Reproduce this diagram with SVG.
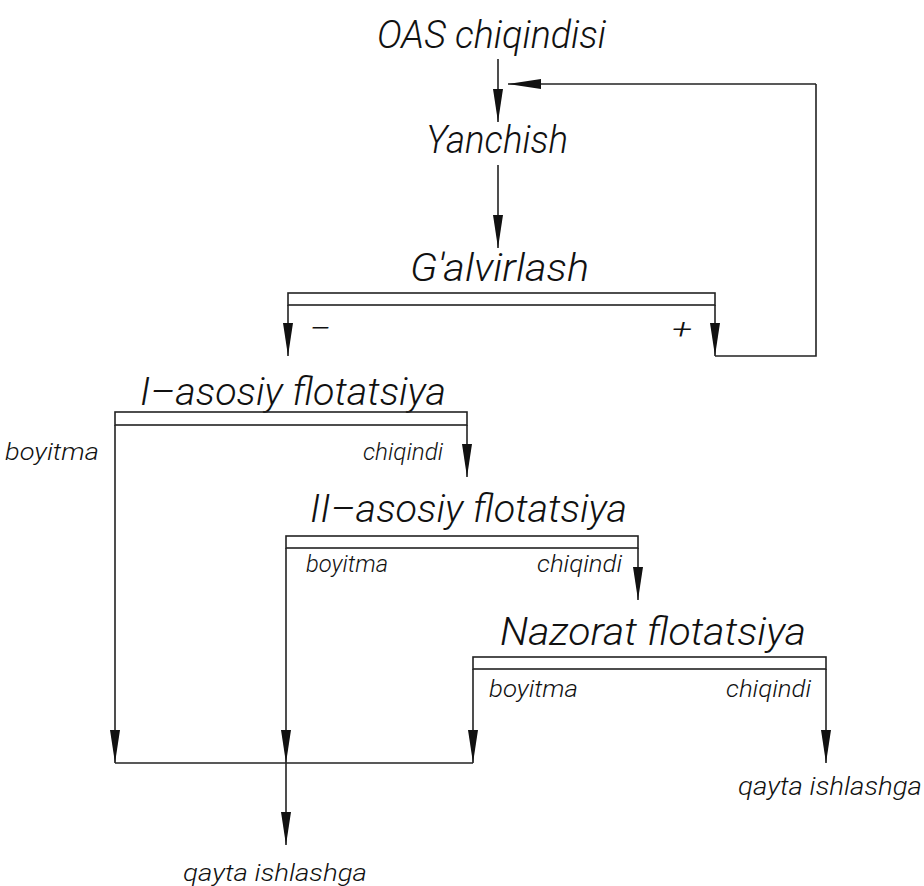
<svg xmlns="http://www.w3.org/2000/svg" width="924" height="886" viewBox="0 0 924 886">
<style>
.t{font-family:Roboto,"Liberation Sans",Arial,sans-serif;font-style:italic;font-weight:300;fill:#111;}
.big{font-size:38px;}
.sm{font-size:23px;}
.md{font-size:26px;}
.pm{font-size:28px;}
.ln{fill:none;stroke:#222;stroke-width:1.6;}
</style>
<defs>
<marker id="ar" markerUnits="userSpaceOnUse" markerWidth="33" markerHeight="10" refX="33" refY="5" orient="auto" viewBox="0 0 33 10">
<path d="M0,0 L33,5 L0,10 Z" fill="#111"/>
</marker>
</defs>
<rect width="924" height="886" fill="#fff"/>
<g id="connectors">
<path class="ln" d="M498,59 V122" marker-end="url(#ar)"/>
<path class="ln" d="M816,84 H508" marker-end="url(#ar)"/>
<path class="ln" d="M498,165 V248" marker-end="url(#ar)"/>
<path class="ln" d="M288,305 V356" marker-end="url(#ar)"/>
<path class="ln" d="M715,305 V356" marker-end="url(#ar)"/>
<path class="ln" d="M715,356 H816 V84"/>
<path class="ln" d="M115,425 V763" marker-end="url(#ar)"/>
<path class="ln" d="M467,425 V477" marker-end="url(#ar)"/>
<path class="ln" d="M638,548 V600" marker-end="url(#ar)"/>
<path class="ln" d="M286,548 V763" marker-end="url(#ar)"/>
<path class="ln" d="M473,669 V763" marker-end="url(#ar)"/>
<path class="ln" d="M826,669 V763" marker-end="url(#ar)"/>
<path class="ln" d="M115,763 H473"/>
<path class="ln" d="M286,763 V845" marker-end="url(#ar)"/>
</g>
<g id="oas"><text class="t big" x="377" y="48" textLength="229" lengthAdjust="spacingAndGlyphs">OAS chiqindisi</text></g>
<g id="yanchish"><text class="t big" x="426" y="153" textLength="142" lengthAdjust="spacingAndGlyphs">Yanchish</text></g>
<g id="galvirlash">
<text class="t big" x="410" y="281" textLength="179" lengthAdjust="spacingAndGlyphs">G'alvirlash</text>
<rect class="ln" x="288" y="293" width="427" height="12"/>
<text class="t pm" x="309" y="338" textLength="22" lengthAdjust="spacingAndGlyphs">−</text>
<text class="t pm" x="672" y="339" textLength="20" lengthAdjust="spacingAndGlyphs">+</text>
</g>
<g id="asosiy1">
<text class="t big" x="140" y="405" textLength="306" lengthAdjust="spacingAndGlyphs">I–asosiy flotatsiya</text>
<rect class="ln" x="115" y="412" width="352" height="13"/>
<text class="t sm" x="5" y="460" textLength="94" lengthAdjust="spacingAndGlyphs">boyitma</text>
<text class="t sm" x="363" y="460" textLength="80" lengthAdjust="spacingAndGlyphs">chiqindi</text>
</g>
<g id="asosiy2">
<text class="t big" x="310" y="522" textLength="317" lengthAdjust="spacingAndGlyphs">II–asosiy flotatsiya</text>
<rect class="ln" x="286" y="536" width="352" height="12"/>
<text class="t sm" x="306" y="572" textLength="82" lengthAdjust="spacingAndGlyphs">boyitma</text>
<text class="t sm" x="537" y="572" textLength="85" lengthAdjust="spacingAndGlyphs">chiqindi</text>
</g>
<g id="nazorat">
<text class="t big" x="500" y="645" textLength="306" lengthAdjust="spacingAndGlyphs">Nazorat flotatsiya</text>
<rect class="ln" x="473" y="657" width="353" height="12"/>
<text class="t sm" x="489" y="697" textLength="89" lengthAdjust="spacingAndGlyphs">boyitma</text>
<text class="t sm" x="726" y="697" textLength="85" lengthAdjust="spacingAndGlyphs">chiqindi</text>
</g>
<g id="out1"><text class="t md" x="738" y="795" textLength="184" lengthAdjust="spacingAndGlyphs">qayta ishlashga</text></g>
<g id="out2"><text class="t sm" x="183" y="881" textLength="184" lengthAdjust="spacingAndGlyphs">qayta ishlashga</text></g>
</svg>
